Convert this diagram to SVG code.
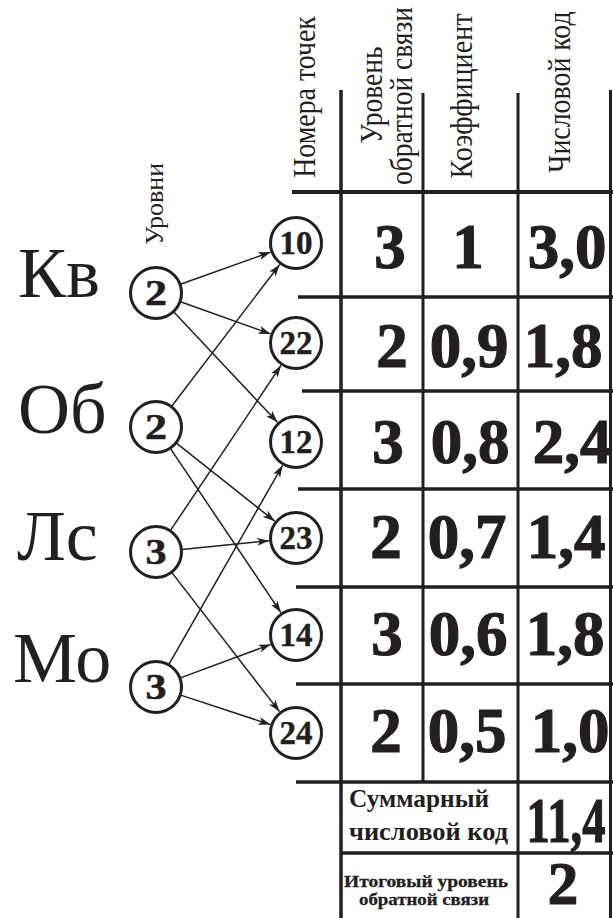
<svg xmlns="http://www.w3.org/2000/svg" width="613" height="918" viewBox="0 0 613 918">
<style>
.bg{fill:#fff}
.hl{stroke:#231f20;stroke-width:3.5}
.vl{stroke:#231f20;stroke-width:3}
.cir{fill:#fff;stroke:#231f20;stroke-width:3}
.con{stroke:#231f20;stroke-width:1.5;fill:none;marker-end:url(#ah)}
.t{font-family:"Liberation Serif","Times New Roman",serif;fill:#231f20}
.big{font-size:72px}
.hdr{font-size:32px;text-anchor:middle}
.num{font-size:63px;font-weight:bold;text-anchor:middle;stroke:#231f20;stroke-width:1.2}
.cn{font-size:36px;font-weight:bold;text-anchor:middle;stroke:#231f20;stroke-width:0.6}
.cn2{font-size:33px;font-weight:bold;text-anchor:middle;stroke:#231f20;stroke-width:0.4}
.b{font-weight:bold}
.sm{font-size:16px;font-weight:bold;stroke:#231f20;stroke-width:0.3}
</style>
<defs>
<marker id="ah" viewBox="0 0 12 8" refX="12" refY="4" markerWidth="12" markerHeight="8" markerUnits="userSpaceOnUse" orient="auto">
<path d="M0,0 L12,4 L0,8 L3,4 Z" fill="#231f20"/>
</marker>
</defs>
<rect class="bg" x="0" y="0" width="613" height="918"/>

<g id="headers">
<text class="t hdr" transform="translate(315,97) rotate(-90) scale(0.87,1)">Номера точек</text>
<text class="t hdr" transform="translate(382,95) rotate(-90) scale(0.86,1)">Уровень</text>
<text class="t hdr" transform="translate(412,96) rotate(-90) scale(0.86,1)">обратной связи</text>
<text class="t hdr" transform="translate(472,96) rotate(-90) scale(0.88,1)">Коэффициент</text>
<text class="t hdr" transform="translate(570,92) rotate(-90) scale(0.87,1)">Числовой код</text>
<text class="t" style="font-size:26px" transform="translate(163,204) rotate(-90)" text-anchor="middle">Уровни</text>
</g>

<g id="grid">
<line class="hl" x1="292" y1="192" x2="613" y2="192" style="stroke-width:4"/>
<line class="hl" x1="298" y1="297" x2="613" y2="297"/>
<line class="hl" x1="302" y1="391" x2="613" y2="391"/>
<line class="hl" x1="298" y1="489" x2="613" y2="489"/>
<line class="hl" x1="296" y1="587" x2="613" y2="587"/>
<line class="hl" x1="296" y1="684" x2="613" y2="684"/>
<line class="hl" x1="296" y1="782" x2="613" y2="782"/>
<line class="hl" x1="341" y1="853" x2="613" y2="853"/>
<line class="vl" x1="341" y1="90" x2="341" y2="918" style="stroke-width:3.5"/>
<line class="vl" x1="423" y1="93" x2="423" y2="782"/>
<line class="vl" x1="518" y1="93" x2="518" y2="918"/>
<line class="vl" x1="610.5" y1="90" x2="610.5" y2="918"/>
</g>

<g id="labels">
<text class="t big" x="18" y="297">Кв</text>
<text class="t big" x="18" y="433">Об</text>
<text class="t big" x="17" y="560">Лс</text>
<text class="t big" x="13" y="682">Мо</text>
</g>

<g id="connectors">
<line class="con" x1="180.5" y1="284.3" x2="270.6" y2="252.1"/>
<line class="con" x1="180.5" y1="301.7" x2="270.6" y2="333.9"/>
<line class="con" x1="173.8" y1="311.9" x2="277.5" y2="422.3"/>
<line class="con" x1="171.7" y1="406.3" x2="279.7" y2="264.5"/>
<line class="con" x1="176.4" y1="443.2" x2="274.8" y2="521.2"/>
<line class="con" x1="170.5" y1="448.6" x2="280.9" y2="612.6"/>
<line class="con" x1="170.5" y1="530.4" x2="281.0" y2="365.4"/>
<line class="con" x1="181.9" y1="549.4" x2="269.1" y2="540.7"/>
<line class="con" x1="171.9" y1="572.6" x2="279.5" y2="711.6"/>
<line class="con" x1="168.9" y1="664.4" x2="282.6" y2="465.4"/>
<line class="con" x1="180.4" y1="677.9" x2="270.7" y2="644.4"/>
<line class="con" x1="180.7" y1="695.1" x2="270.4" y2="724.6"/>
</g>

<g id="lv-kv"><circle class="cir" cx="156" cy="293" r="25.5"/><text class="t cn" x="156" y="305" textLength="22" lengthAdjust="spacingAndGlyphs">2</text></g>
<g id="lv-ob"><circle class="cir" cx="156" cy="427" r="25.5"/><text class="t cn" x="156" y="439" textLength="22" lengthAdjust="spacingAndGlyphs">2</text></g>
<g id="lv-ls"><circle class="cir" cx="156" cy="552" r="25.5"/><text class="t cn" x="156" y="564" textLength="21" lengthAdjust="spacingAndGlyphs">3</text></g>
<g id="lv-mo"><circle class="cir" cx="156" cy="687" r="25.5"/><text class="t cn" x="156" y="699" textLength="21" lengthAdjust="spacingAndGlyphs">3</text></g>

<g id="pt-10"><circle class="cir" cx="296" cy="243" r="25.5"/><text class="t cn2" x="296" y="254" textLength="33" lengthAdjust="spacingAndGlyphs">10</text></g>
<g id="pt-22"><circle class="cir" cx="296" cy="343" r="25.5"/><text class="t cn2" x="296" y="354" textLength="33" lengthAdjust="spacingAndGlyphs">22</text></g>
<g id="pt-12"><circle class="cir" cx="296" cy="442" r="25.5"/><text class="t cn2" x="296" y="453" textLength="33" lengthAdjust="spacingAndGlyphs">12</text></g>
<g id="pt-23"><circle class="cir" cx="296" cy="538" r="25.5"/><text class="t cn2" x="296" y="549" textLength="33" lengthAdjust="spacingAndGlyphs">23</text></g>
<g id="pt-14"><circle class="cir" cx="296" cy="635" r="25.5"/><text class="t cn2" x="296" y="646" textLength="33" lengthAdjust="spacingAndGlyphs">14</text></g>
<g id="pt-24"><circle class="cir" cx="296" cy="733" r="25.5"/><text class="t cn2" x="296" y="744" textLength="33" lengthAdjust="spacingAndGlyphs">24</text></g>

<g id="row1"><text class="t num" x="390" y="268">3</text><text class="t num" x="468" y="268">1</text><text class="t num" x="567" y="268">3,0</text></g>
<g id="row2"><text class="t num" x="392" y="367">2</text><text class="t num" x="469" y="367">0,9</text><text class="t num" x="563" y="367">1,8</text></g>
<g id="row3"><text class="t num" x="388" y="463">3</text><text class="t num" x="470" y="463">0,8</text><text class="t num" x="572" y="463">2,4</text></g>
<g id="row4"><text class="t num" x="386" y="558">2</text><text class="t num" x="467" y="558">0,7</text><text class="t num" x="566" y="558">1,4</text></g>
<g id="row5"><text class="t num" x="387" y="655">3</text><text class="t num" x="468" y="655">0,6</text><text class="t num" x="565" y="655">1,8</text></g>
<g id="row6"><text class="t num" x="386" y="752">2</text><text class="t num" x="467" y="752">0,5</text><text class="t num" x="570" y="752">1,0</text></g>

<g id="sum">
<text class="t b" style="font-size:25px" x="349" y="807" textLength="140" lengthAdjust="spacingAndGlyphs">Суммарный</text>
<text class="t b" style="font-size:25px" x="349" y="840" textLength="159" lengthAdjust="spacingAndGlyphs">числовой код</text>
<text class="t num" transform="translate(566,842) scale(0.74,1)">11,4</text>
</g>
<g id="total">
<text class="t sm" x="344" y="887" textLength="164" lengthAdjust="spacingAndGlyphs">Итоговый уровень</text>
<text class="t sm" x="359" y="905" textLength="130" lengthAdjust="spacingAndGlyphs">обратной связи</text>
<text class="t num" style="font-size:61px" x="563" y="904">2</text>
</g>
</svg>
